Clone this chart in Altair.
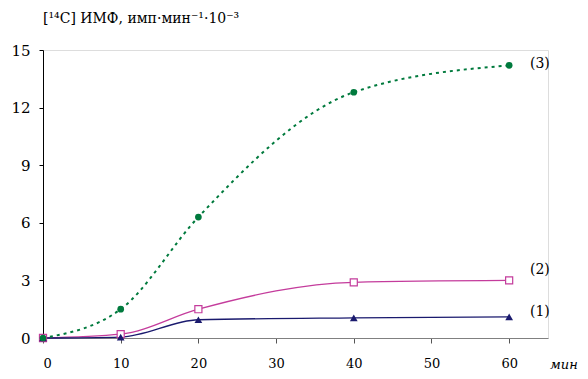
import altair as alt
import pandas as pd

minutes = [0, 10, 20, 40, 60]
s1 = [0.0, 0.05, 0.95, 1.05, 1.1]
s2 = [0.0, 0.2, 1.5, 2.9, 3.0]
s3 = [0.0, 1.5, 6.3, 12.8, 14.2]
x_ticks = [0, 10, 20, 30, 40, 50, 60]
y_ticks = [0, 3, 6, 9, 12, 15]

df = pd.DataFrame({
    "t": minutes * 3,
    "v": s1 + s2 + s3,
    "s": ["1"] * 5 + ["2"] * 5 + ["3"] * 5,
})

FONT = "DejaVu Serif"
xs = alt.Scale(domain=[0, 65], nice=False, zero=False)
ys = alt.Scale(domain=[0, 15], nice=False)

X = alt.X("t:Q", scale=xs, axis=alt.Axis(values=x_ticks, title=None, grid=False,
          domainColor="#808080", tickColor="#555555", tickSize=5, labelPadding=14,
          labelFont=FONT, labelFontSize=13, labelColor="black"))
Y = alt.Y("v:Q", scale=ys, axis=alt.Axis(values=y_ticks, title=None, grid=False,
          domainColor="black", tickColor="black", tickSize=4, labelPadding=9,
          labelFont=FONT, labelFontSize=15, labelColor="black"))

def sub(k):
    return df[df.s == k]

line1 = alt.Chart(sub("1")).mark_line(color="#1a1a6e", strokeWidth=1.3, interpolate="monotone").encode(x=X, y=Y)
line2 = alt.Chart(sub("2")).mark_line(color="#c43c9c", strokeWidth=1.3, interpolate="monotone").encode(x=X, y=Y)
line3 = alt.Chart(sub("3")).mark_line(color="#007a3d", strokeWidth=2, strokeDash=[3, 4], interpolate="monotone").encode(x=X, y=Y)

pt1 = alt.Chart(sub("1")).mark_point(shape="triangle-up", filled=True, color="#1a1a6e", size=60, opacity=1).encode(x=X, y=Y)
pt2 = alt.Chart(sub("2")).mark_point(shape="square", filled=True, fill="white", stroke="#c43c9c", strokeWidth=1.2, size=50, opacity=1).encode(x=X, y=Y)
pt3 = alt.Chart(sub("3")).mark_point(shape="circle", filled=True, color="#007a3d", size=45, opacity=1).encode(x=X, y=Y)

def txt(s, x, y, size=14, italic=False, align="left"):
    return alt.Chart(pd.DataFrame({"a": [0]})).mark_text(
        text=s, font=FONT, fontSize=size, align=align, baseline="middle",
        fontStyle="italic" if italic else "normal", color="black"
    ).encode(x=alt.value(x), y=alt.value(y))

labels = [
    txt("(3)", 487, 14),
    txt("(2)", 487, 220),
    txt("(1)", 487, 262),
    txt("мин", 507, 315, size=13, italic=True),
    txt("[¹⁴C] ИМФ, имп·мин⁻¹·10⁻³", 0, -31, size=14),
]

chart = alt.layer(line2, line1, line3, pt2, pt1, pt3, *labels).properties(
    width=505, height=288,
    autosize=alt.AutoSizeParams(type="none"),
    padding={"left": 43, "top": 50, "right": 40, "bottom": 41},
).configure_view(stroke=None).configure(background="white")

chart.save("out.html", embed_options={"renderer": "svg", "actions": False})
